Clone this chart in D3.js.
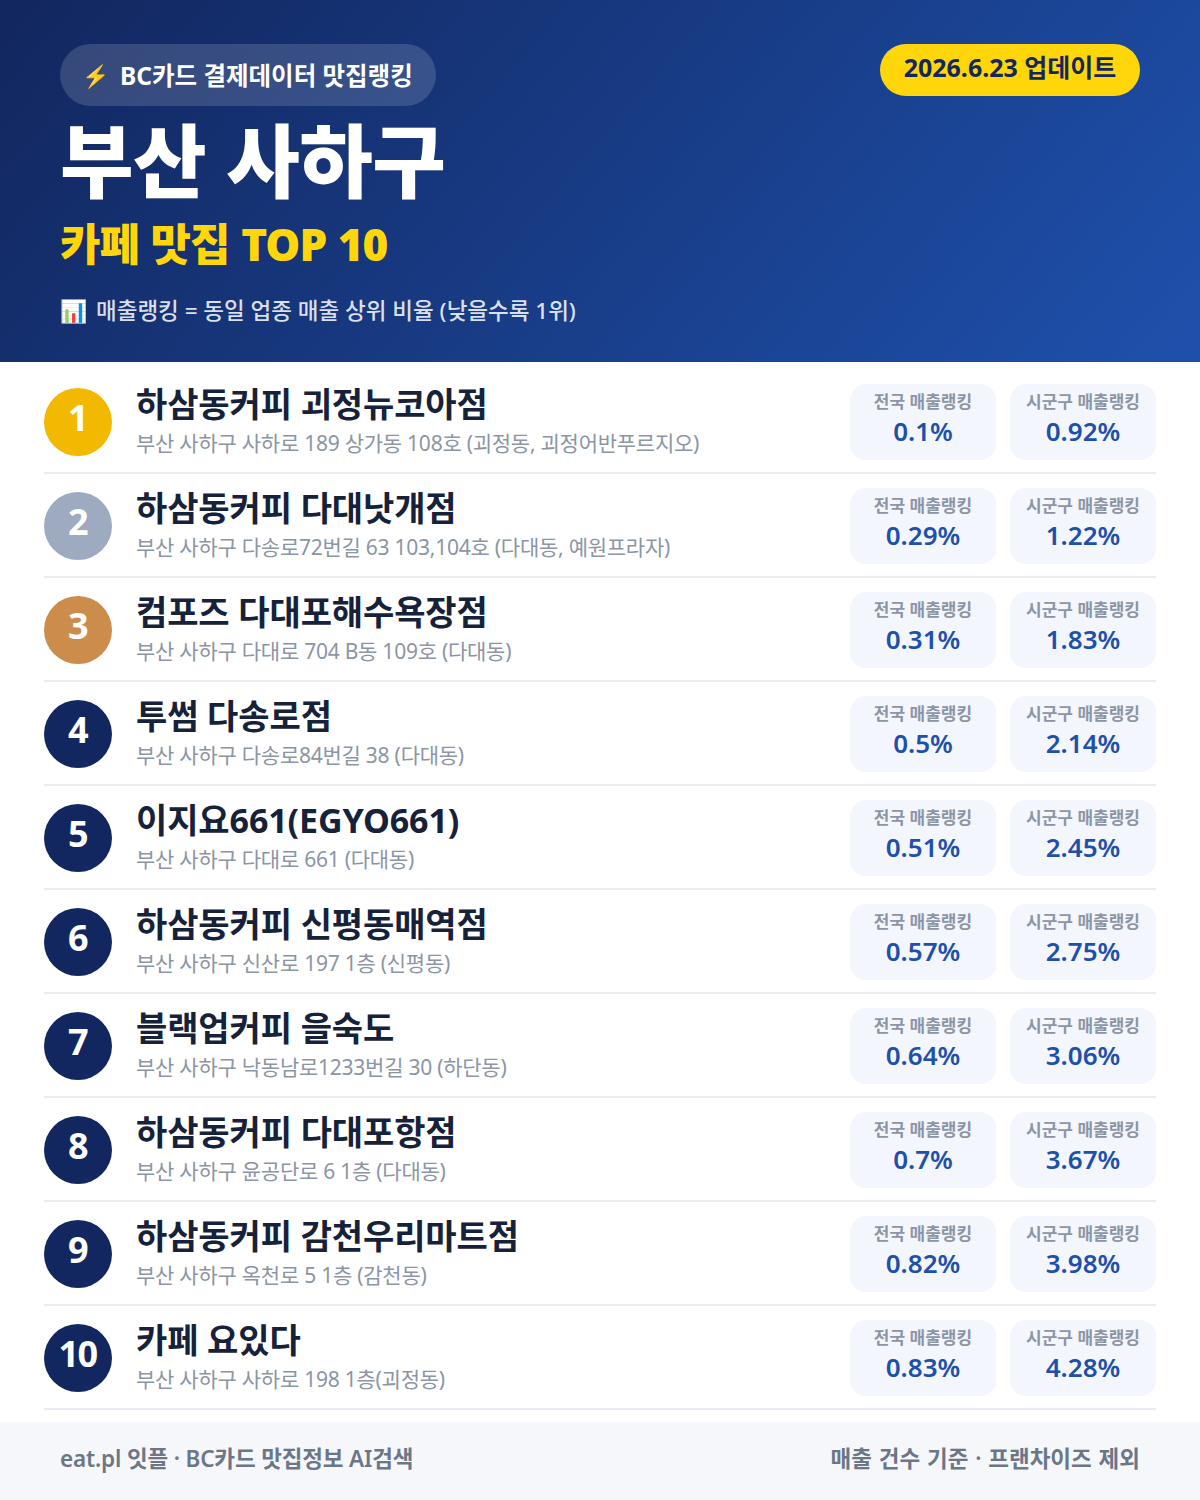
<!DOCTYPE html>
<html>
<head>
<meta charset="UTF-8">
<title>부산 사하구 카페 맛집 TOP 10</title>
<style>
html, body { margin: 0; padding: 0; background: #fff; }
text { font-family: "Noto Sans", "Noto Sans CJK KR", sans-serif; }
</style>
</head>
<body>
<script src="https://cdn.jsdelivr.net/npm/d3@7"></script>
<script>

var names = ['하삼동커피 괴정뉴코아점', '하삼동커피 다대낫개점', '컴포즈 다대포해수욕장점', '투썸 다송로점', '이지요661(EGYO661)',
    '하삼동커피 신평동매역점', '블랙업커피 을숙도', '하삼동커피 다대포항점', '하삼동커피 감천우리마트점', '카페 요있다'];
var addresses = ['부산 사하구 사하로 189 상가동 108호 (괴정동, 괴정어반푸르지오)', '부산 사하구 다송로72번길 63 103,104호 (다대동, 예원프라자)',
    '부산 사하구 다대로 704 B동 109호 (다대동)', '부산 사하구 다송로84번길 38 (다대동)', '부산 사하구 다대로 661 (다대동)',
    '부산 사하구 신산로 197 1층 (신평동)', '부산 사하구 낙동남로1233번길 30 (하단동)', '부산 사하구 윤공단로 6 1층 (다대동)',
    '부산 사하구 옥천로 5 1층 (감천동)', '부산 사하구 사하로 198 1층(괴정동)'];
var ranks = [1, 2, 3, 4, 5, 6, 7, 8, 9, 10];
var nationalRank = [0.1, 0.29, 0.31, 0.5, 0.51, 0.57, 0.64, 0.7, 0.82, 0.83];
var districtRank = [0.92, 1.22, 1.83, 2.14, 2.45, 2.75, 3.06, 3.67, 3.98, 4.28];

var w = 1200, h = 1500;

var svg = d3.select('body').append('svg')
    .attr('width', w).attr('height', h)
    .style('display', 'block');

var grad = svg.append('defs').append('linearGradient')
    .attr('id', 'head')
    .attr('gradientUnits', 'userSpaceOnUse')
    .attr('x1', 180).attr('y1', -180)
    .attr('x2', 1020).attr('y2', 540);
grad.append('stop').attr('offset', '0%').attr('stop-color', '#12275f');
grad.append('stop').attr('offset', '100%').attr('stop-color', '#1e50ab');

svg.append('rect').attr('width', w).attr('height', 362).attr('fill', 'url(#head)');

function label(g, x, y, str, size, weight, fill, anchor) {
    return g.append('text').attr('x', x).attr('y', y).text(str)
        .attr('font-size', size).attr('font-weight', weight)
        .attr('fill', fill).attr('text-anchor', anchor || 'start');
}

// header
svg.append('rect').attr('x', 60).attr('y', 44).attr('width', 376).attr('height', 62).attr('rx', 31)
    .attr('fill', 'rgba(255,255,255,0.15)');
label(svg, 82, 84, '⚡', 22, 400, '#ffd60a');
label(svg, 120, 85, 'BC카드 결제데이터 맛집랭킹', 24.5, 700, '#fff');
svg.append('rect').attr('x', 880).attr('y', 44).attr('width', 260).attr('height', 52).attr('rx', 26)
    .attr('fill', '#ffd60a');
label(svg, 1010, 77, '2026.6.23 업데이트', 25, 700, '#12275f', 'middle');
label(svg, 60, 191, '부산 사하구', 80, 900, '#fff').attr('letter-spacing', -0.6);
label(svg, 60, 261, '카페 맛집 TOP 10', 44, 900, '#ffd60a').attr('letter-spacing', -1).attr('word-spacing', 1.2);
label(svg, 60, 319, '📊', 22, 400, '#fff');
label(svg, 96, 319, '매출랭킹 = 동일 업종 매출 상위 비율 (낮을수록 1위)', 22.5, 500, 'rgba(255,255,255,0.85)');

// rows
var y = d3.scaleBand().domain(ranks).range([370, 1410]);
var medal = d3.scaleOrdinal().domain([1, 2, 3]).range(['#f2b900', '#9eaac0', '#cc8c4b']).unknown('#12275f');

var rows = svg.selectAll('g.row').data(ranks).enter().append('g')
    .attr('class', 'row')
    .attr('transform', function(d) { return 'translate(0,' + y(d) + ')'; });

rows.append('line').attr('x1', 44).attr('x2', 1156).attr('y1', 103).attr('y2', 103)
    .attr('stroke', '#e9ecf1').attr('stroke-width', 2);
rows.append('circle').attr('cx', 78).attr('cy', 52).attr('r', 34)
    .attr('fill', function(d) { return medal(d); });
rows.append('text').attr('x', 77.5).attr('y', 61).attr('text-anchor', 'middle')
    .attr('font-size', 36).attr('font-weight', 700).attr('fill', '#fff')
    .attr('letter-spacing', -1.5)
    .text(function(d) { return d; });
rows.append('text').attr('x', 136).attr('y', 47)
    .attr('font-size', 34).attr('font-weight', 700).attr('fill', '#16213a')
    .attr('letter-spacing', -0.1)
    .text(function(d, i) { return names[i]; });
rows.append('text').attr('x', 136).attr('y', 81)
    .attr('font-size', 21).attr('font-weight', 400).attr('fill', '#8b95a5')
    .attr('letter-spacing', -0.25)
    .text(function(d, i) { return addresses[i]; });

function badge(x, title, values) {
    var bw = 146;
    rows.append('rect').attr('x', x).attr('y', 14).attr('width', bw).attr('height', 76).attr('rx', 16)
        .attr('fill', '#f3f6fc');
    rows.append('text').attr('x', x + bw / 2).attr('y', 38).attr('text-anchor', 'middle')
        .attr('font-size', 17).attr('font-weight', 700).attr('fill', '#8b95a5')
        .text(title);
    rows.append('text').attr('x', x + bw / 2).attr('y', 71).attr('text-anchor', 'middle')
        .attr('font-size', 26).attr('font-weight', 600).attr('fill', '#1e50ab')
        .text(function(d, i) { return values[i] + '%'; });
}
badge(850, '전국 매출랭킹', nationalRank);
badge(1010, '시군구 매출랭킹', districtRank);

// footer
svg.append('rect').attr('y', 1422).attr('width', w).attr('height', 78).attr('fill', '#f5f7fb');
label(svg, 60, 1467, 'eat.pl 잇플 · BC카드 맛집정보 AI검색', 22.5, 600, '#6b7687').attr('letter-spacing', -0.15);
label(svg, 1140, 1467, '매출 건수 기준 · 프랜차이즈 제외', 22.5, 600, '#6b7687', 'end').attr('word-spacing', 1);

</script>
</body>
</html>
